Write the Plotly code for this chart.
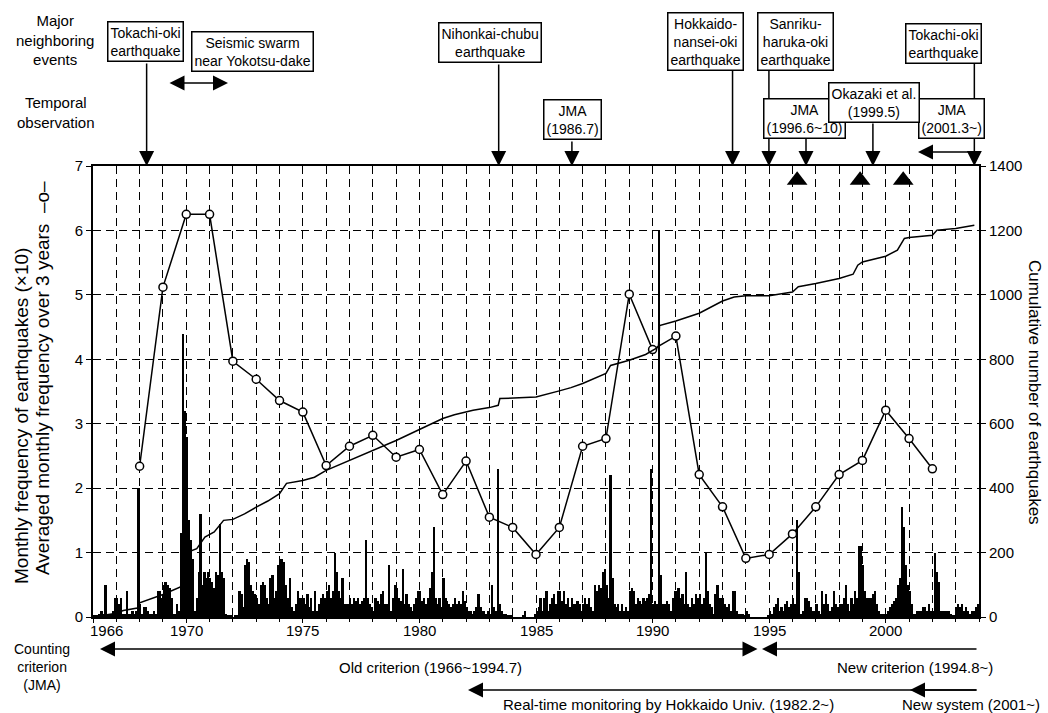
import plotly.graph_objects as go

FONT = "Liberation Sans, Arial, sans-serif"

# ---------------- data ----------------
# monthly frequency of earthquakes (x10), one row per year (Jan..Dec)
monthly_1966_1969 = [
    0.02, 0.03, 0.02, 0.05, 0.1, 0.05, 0.5, 0.03, 0.05, 0.05, 0.1, 0.3,
    0.3, 0.2, 0.3, 0.05, 0.05, 0.4, 0.05, 0.05, 0.1, 0.05, 0.1, 2.0,
    0.2, 0.05, 0.15, 0.15, 0.1, 0.05, 0.05, 0.1, 0.05, 0.4, 0.4, 0.3,
    0.5, 0.55, 0.5, 0.45, 0.3, 0.05, 0.05, 0.2, 0.1, 1.3, 4.4, 3.2,
]
monthly_1970s = [
    2.8, 1.5, 1.2, 0.9, 0.1, 0.3, 0.7, 1.6, 0.5, 0.7, 0.6, 0.7,
    0.6, 0.55, 0.45, 0.7, 0.65, 1.45, 0.7, 0.6, 0.05, 0.03, 0.02, 0.02,
    0.0, 0.02, 0.03, 0.4, 0.35, 0.15, 0.8, 0.9, 0.85, 0.5, 0.4, 0.35,
    0.3, 0.2, 0.5, 0.55, 0.5, 0.3, 0.2, 0.6, 0.65, 0.3, 0.4, 0.8,
    0.9, 0.9, 0.85, 0.5, 0.3, 0.6, 0.15, 0.1, 0.2, 0.4, 0.3, 0.3,
    0.3, 0.2, 0.35, 0.15, 0.3, 0.1, 0.4, 0.1, 0.2, 0.3, 0.35, 0.3,
    0.4, 0.5, 0.3, 0.4, 1.0, 0.7, 0.4, 0.3, 0.6, 0.2, 0.2, 0.2,
    0.3, 0.2, 0.3, 0.25, 0.3, 0.2, 0.25, 0.3, 1.2, 0.3, 0.2, 0.15,
    0.1, 0.3, 0.25, 0.2, 0.35, 0.4, 0.2, 0.2, 0.8, 0.1, 0.3, 0.5,
    0.45, 0.3, 0.25, 0.75, 0.2, 0.35, 0.2, 0.15, 0.1, 0.2, 0.3, 0.4,
]
monthly_1980s = [
    0.4, 0.25, 0.3, 0.2, 0.3, 0.45, 0.7, 1.4, 0.3, 0.2, 0.3, 0.15,
    0.6, 0.3, 0.25, 0.2, 0.15, 0.2, 0.3, 0.2, 0.25, 0.2, 0.4, 0.25,
    0.15, 0.1, 0.1, 0.05, 0.1, 0.15, 0.35, 0.15, 0.1, 0.1, 0.05, 0.1,
    0.05, 0.5, 0.15, 0.1, 2.3, 0.2, 0.1, 0.05, 0.05, 0.03, 0.02, 0.02,
    0.0, 0.0, 0.0, 0.0, 0.0, 0.02, 0.1, 0.0, 0.0, 0.0, 0.0, 0.05,
    0.1, 0.15, 0.3, 0.1, 0.3, 0.4, 0.1, 0.2, 0.3, 0.35, 0.2, 0.4,
    0.4, 0.25, 0.4, 0.2, 0.3, 0.15, 0.3, 0.2, 0.2, 0.25, 0.2, 0.1,
    0.2, 0.3, 0.2, 0.3, 0.15, 0.1, 0.5, 0.4, 0.5, 0.45, 0.7, 0.75,
    0.5, 0.3, 2.2, 0.6, 0.2, 0.15, 0.2, 0.1, 0.2, 0.1, 0.15, 0.1,
    0.4, 0.45, 0.4, 0.2, 0.3, 0.25, 0.2, 0.3, 0.25, 0.3, 0.35, 2.3,
]
monthly_1990s = [
    0.2, 0.25, 0.2, 6.0, 0.65, 0.2, 0.2, 0.25, 0.2, 0.1, 0.3, 0.4,
    0.4, 0.45, 0.3, 0.35, 0.2, 0.7, 0.2, 0.15, 0.3, 0.2, 0.35, 0.3,
    0.35, 0.2, 0.3, 1.0, 0.4, 0.2, 0.15, 0.05, 0.35, 0.5, 0.3, 0.3,
    0.3, 0.2, 0.15, 0.2, 0.1, 0.4, 0.4, 0.1, 0.05, 0.05, 0.05, 0.02,
    0.1, 0.05, 0.0, 0.0, 0.0, 0.0, 0.0, 0.0, 0.0, 0.0, 0.0, 0.02,
    0.1, 0.05, 0.15, 0.2, 0.3, 0.1, 0.15, 0.1, 0.2, 0.25, 0.15, 0.2,
    0.3, 0.2, 1.5, 0.7, 0.05, 0.1, 0.3, 0.3, 0.25, 0.15, 0.1, 0.1,
    0.2, 0.1, 0.05, 0.4, 0.2, 0.35, 0.2, 0.1, 0.15, 0.4, 0.2, 0.15,
    0.2, 0.2, 0.3, 0.5, 0.2, 0.1, 0.3, 0.2, 0.4, 0.3, 1.1, 1.1,
    0.8, 0.4, 0.3, 0.3, 0.3, 0.35, 0.4, 0.2, 0.1, 0.05, 0.05, 0.05,
]
monthly_2000s = [
    0.05, 0.1, 0.15, 0.2, 0.25, 0.3, 0.5, 0.6, 1.7, 1.4, 0.8, 0.5,
    0.4, 0.2, 0.05, 0.05, 0.1, 0.1, 0.1, 0.15, 0.15, 0.1, 0.2, 0.1,
    0.1, 1.0, 0.7, 0.55, 0.1, 0.1, 0.1, 0.1, 0.1, 0.05, 0.02, 0.02,
    0.15, 0.2, 0.15, 0.2, 0.1, 0.15, 0.1, 0.05, 0.1, 0.1, 0.15, 0.2,
]
first_year = 1966

# averaged monthly frequency over 3 years (x10)
avg_years = list(range(1968, 2003))
avg_values = [2.34, 5.12, 6.25, 6.25, 3.97, 3.69, 3.36, 3.18, 2.35, 2.65,
              2.82, 2.48, 2.60, 1.90, 2.42, 1.55, 1.39, 0.97, 1.39, 2.65,
              2.77, 5.01, 4.15, 4.36, 2.21, 1.71, 0.91, 0.97, 1.29, 1.71,
              2.21, 2.43, 3.21, 2.77, 2.30]

# cumulative number of earthquakes
cum_years = [1966.0, 1966.5, 1967.0, 1967.3, 1967.9, 1968.0, 1968.7, 1969.0,
             1969.75, 1969.9, 1970.05, 1970.45, 1970.8, 1971.2, 1971.6, 1972.0,
             1972.5, 1973.0, 1973.5, 1974.0, 1974.3, 1975.0, 1975.5, 1976.0,
             1977.0, 1978.0, 1979.0, 1980.0, 1981.0, 1981.5, 1982.0, 1982.3,
             1983.0, 1983.38, 1983.45, 1985.0, 1986.0, 1986.5, 1987.0, 1988.0,
             1988.2, 1989.0, 1989.7, 1990.25, 1990.3, 1991.0, 1992.0, 1993.0,
             1993.5, 1994.0, 1995.0, 1996.0, 1996.25, 1997.0, 1998.0, 1998.6,
             1998.8, 1999.0, 2000.0, 2000.5, 2000.8, 2001.0, 2002.0, 2002.2,
             2003.0, 2003.8]
cum_counts = [0, 5, 12, 20, 28, 44, 62, 70,
              93, 150, 201, 212, 248, 264, 300, 303,
              320, 341, 360, 383, 415, 424, 434, 455,
              486, 515, 548, 582, 616, 628, 636, 642,
              650, 657, 678, 683, 702, 712, 725, 756,
              781, 797, 815, 838, 905, 919, 943, 981,
              993, 997, 997, 1009, 1025, 1035, 1051, 1064,
              1092, 1102, 1120, 1139, 1175, 1178, 1185, 1201,
              1206, 1216]

# volcanic (triangle) markers near the top
tri_years = [1996.2, 1998.9, 2000.75]
tri_level = [6.78, 6.78, 6.78]

# event arrows (decimal year, pixel y of arrow tail above plot top)
event_years = [1968.3, 1983.4, 1986.54, 1993.43, 1994.99, 1996.58, 1999.45, 2003.8]
event_tail_py = [62, 63, 140, 69, 69, 137, 122, 62]

x_tick_vals = [1966, 1970, 1975, 1980, 1985, 1990, 1995, 2000]
x_tick_text = ["1966", "1970", "1975", "1980", "1985", "1990", "1995", "2000"]

# ---------------- figure ----------------
monthly = monthly_1966_1969 + monthly_1970s + monthly_1980s + monthly_1990s + monthly_2000s
month_x = [first_year + (i + 0.5) / 12 for i in range(len(monthly))]

fig = go.Figure()
fig.add_trace(go.Bar(x=month_x, y=monthly, width=0.075, marker=dict(color="black", line=dict(width=0)),
                     yaxis="y", hoverinfo="skip"))
fig.add_trace(go.Scatter(x=avg_years, y=avg_values, mode="lines+markers", yaxis="y",
                         line=dict(color="black", width=1.5),
                         marker=dict(symbol="circle", size=8, color="white", line=dict(color="black", width=1.5))))
fig.add_trace(go.Scatter(x=cum_years, y=cum_counts, mode="lines", yaxis="y2",
                         line=dict(color="black", width=1.5)))
fig.add_trace(go.Scatter(x=tri_years, y=[v * 200 for v in tri_level], mode="markers", yaxis="y2",
                         marker=dict(symbol="triangle-up", size=18, color="black")))

L, R, T, B = 93, 979, 166, 617
W, H = R - L, B - T


def PX(px):
    return (px - L) / W


def PY(py):
    return (B - py) / H


GRID = dict(gridcolor="black", gridwidth=1, griddash="8px,5px")

fig.update_layout(
    width=1048, height=713,
    margin=dict(l=L, r=1048 - R, t=T, b=713 - B, pad=0),
    plot_bgcolor="white", paper_bgcolor="white",
    showlegend=False, bargap=0,
    font=dict(family=FONT, size=15, color="black"),
    xaxis=dict(range=[1966, 2004], tickvals=x_tick_vals,
               ticktext=["" for _ in x_tick_vals],
               ticks="outside", ticklen=4, tickwidth=1, tickcolor="black",
               showline=True, linewidth=2, linecolor="black", mirror=True,
               showgrid=True, zeroline=False,
               minor=dict(dtick=1, tick0=1966, ticks="outside", ticklen=3, tickcolor="black",
                          showgrid=True, **GRID),
               **GRID),
    yaxis=dict(range=[0, 7], dtick=1, ticks="outside", ticklen=5, tickcolor="black",
               showline=True, linewidth=2, linecolor="black",
               showgrid=True, zeroline=False, tickfont=dict(size=15), **GRID),
    yaxis2=dict(range=[0, 1400], dtick=200, overlaying="y", side="right",
                ticks="outside", ticklen=5, tickcolor="black",
                showline=True, linewidth=2, linecolor="black",
                showgrid=False, zeroline=False, tickfont=dict(size=15)),
)

ann = []
ARW = dict(showarrow=True, arrowhead=2, arrowsize=2, arrowwidth=1.5, arrowcolor="black", text="")

# event arrows down to the top of the plot
for yr, tail in zip(event_years, event_tail_py):
    ann.append(dict(x=yr, y=1, xref="x", yref="paper", ax=0, ay=-(T - tail), **ARW))
# double arrow: seismic swarm
ann.append(dict(x=PX(228), y=PY(83), xref="paper", yref="paper", ax=-60, ay=0, arrowside="end+start", **ARW))
# JMA 2001.3~ left arrow
ann.append(dict(x=PX(918), y=PY(152), xref="paper", yref="paper", ax=57, ay=0, **ARW))
# bottom arrows
ann.append(dict(x=PX(100), y=PY(649), xref="paper", yref="paper", ax=659, ay=0, arrowside="end+start", **ARW))
ann.append(dict(x=PX(762), y=PY(649), xref="paper", yref="paper", ax=216, ay=0, **ARW))
ann.append(dict(x=PX(468), y=PY(690), xref="paper", yref="paper", ax=510, ay=0, **ARW))
ann.append(dict(x=PX(910), y=PY(690), xref="paper", yref="paper", ax=68, ay=0, **ARW))


def box(text, cx, cy, size=14):
    ann.append(dict(text=text, x=PX(cx), y=PY(cy), xref="paper", yref="paper",
                    xanchor="center", yanchor="middle", showarrow=False,
                    bordercolor="black", borderwidth=1.5, borderpad=2, bgcolor="white",
                    font=dict(size=size)))


def label(text, cx, cy, size=14, angle=0):
    ann.append(dict(text=text, x=PX(cx), y=PY(cy), xref="paper", yref="paper",
                    xanchor="center", yanchor="middle", showarrow=False, textangle=angle,
                    font=dict(size=size)))


box("Tokachi-oki<br>earthquake", 145, 41)
box("Seismic swarm<br>near Yokotsu-dake", 252, 51)
box("Nihonkai-chubu<br>earthquake", 490, 42)
box("JMA<br>(1986.7)", 572, 120)
box("Hokkaido-<br>nansei-oki<br>earthquake", 705, 41)
box("Sanriku-<br>haruka-oki<br>earthquake", 795, 41)
box("Tokachi-oki<br>earthquake", 943, 43)
box("JMA<br>(1996.6~10)", 804, 119)
box("JMA<br>(2001.3~)", 951, 119)
box("Okazaki et al.<br>(1999.5)", 874, 102)

# x tick labels
for v, t in zip(x_tick_vals, x_tick_text):
    off = 0.6 if v == 1966 else 0.0
    ann.append(dict(text=t, x=v + off, y=PY(630), xref="x", yref="paper", xanchor="center",
                    yanchor="middle", showarrow=False, font=dict(size=15)))

label("Major<br>neighboring<br>events", 55, 40, 15)
label("Temporal<br>observation", 56, 112, 15)
label("Counting<br>criterion<br>(JMA)", 42, 667, 14)
label("Old criterion (1966~1994.7)", 430, 667, 15)
label("New criterion (1994.8~)", 915, 667, 15)
label("Real-time monitoring by Hokkaido Univ. (1982.2~)", 668, 704, 15)
label("New system (2001~)", 971, 704, 15)
label("Monthly frequency of earthquakes (×10)", 21, 416, 19, -90)
label("Averaged monthly frequency over 3 years  –o–", 42, 378, 19, -90)
label("Cumulative number of earthquakes", 1035, 392, 17, 90)

fig.update_layout(annotations=ann)
fig.write_html("out.html")
